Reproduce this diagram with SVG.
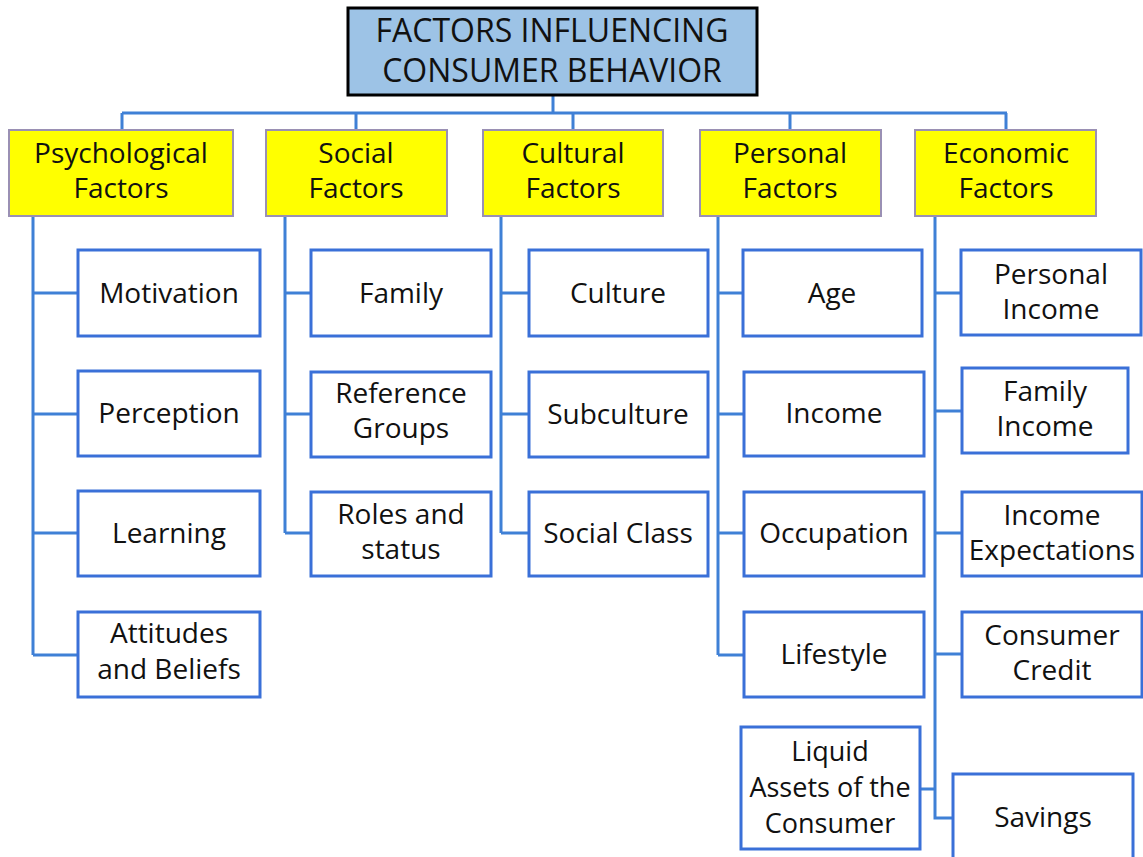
<svg xmlns="http://www.w3.org/2000/svg" width="1143" height="857" viewBox="0 0 1143 857">
<style>
text{font-family:"Open Sans","Liberation Sans",sans-serif;fill:#111;text-anchor:middle;font-size:28px}
.title{font-size:32px}
.sm{font-size:27px}
.hdr{fill:#ffff00;stroke:#9a90b4;stroke-width:2}
.box{fill:#fff;stroke:#3a70d8;stroke-width:3}
.top{fill:#9dc3e6;stroke:#000;stroke-width:3}
#connectors path{fill:none;stroke:#3f80d6;stroke-width:3}
</style>
<rect width="1143" height="857" fill="#fff"/>
<g id="connectors">
<path d="M553 95V113M122 113H1007M122 113V130M356 113V130M573 113V130M790 113V130M1006 113V130"/>
<path d="M33 216V655M33 293H78M33 414H78M33 533H78M33 655H78"/>
<path d="M285 216V533M285 293H311M285 414H311M285 533H311"/>
<path d="M501 216V533M501 293H529M501 414H529M501 533H529"/>
<path d="M718 216V655M718 293H743M718 414H744M718 533H744M718 655H744"/>
<path d="M935 216V818H953M935 293H961M935 411H962M935 533H962M935 654H962M920 789H935"/>
</g>
<g id="title"><rect class="top" x="348" y="8" width="409" height="87"/><text class="title" x="552" y="42">FACTORS INFLUENCING</text><text class="title" x="552" y="82">CONSUMER BEHAVIOR</text></g>
<g id="psych"><rect class="hdr" x="9" y="130" width="224" height="86"/><text x="121" y="163">Psychological</text><text x="121" y="198">Factors</text></g>
<g id="social"><rect class="hdr" x="266" y="130" width="181" height="86"/><text x="356" y="163">Social</text><text x="356" y="198">Factors</text></g>
<g id="cultural"><rect class="hdr" x="483" y="130" width="180" height="86"/><text x="573" y="163">Cultural</text><text x="573" y="198">Factors</text></g>
<g id="personal"><rect class="hdr" x="700" y="130" width="181" height="86"/><text x="790" y="163">Personal</text><text x="790" y="198">Factors</text></g>
<g id="economic"><rect class="hdr" x="915" y="130" width="181" height="86"/><text x="1006" y="163">Economic</text><text x="1006" y="198">Factors</text></g>
<g id="motivation"><rect class="box" x="78" y="250" width="182" height="86"/><text x="169" y="303">Motivation</text></g>
<g id="perception"><rect class="box" x="78" y="371" width="182" height="85"/><text x="169" y="423">Perception</text></g>
<g id="learning"><rect class="box" x="78" y="491" width="182" height="85"/><text x="169" y="543">Learning</text></g>
<g id="attitudes"><rect class="box" x="78" y="612" width="182" height="85"/><text x="169" y="643">Attitudes</text><text x="169" y="679">and Beliefs</text></g>
<g id="family"><rect class="box" x="311" y="250" width="180" height="86"/><text x="401" y="303">Family</text></g>
<g id="reference"><rect class="box" x="311" y="372" width="180" height="85"/><text x="401" y="403">Reference</text><text x="401" y="438">Groups</text></g>
<g id="roles"><rect class="box" x="311" y="492" width="180" height="84"/><text x="401" y="524">Roles and</text><text x="401" y="559">status</text></g>
<g id="culture"><rect class="box" x="529" y="250" width="179" height="86"/><text x="618" y="303">Culture</text></g>
<g id="subculture"><rect class="box" x="529" y="372" width="179" height="85"/><text x="618" y="424">Subculture</text></g>
<g id="socialclass"><rect class="box" x="529" y="492" width="179" height="84"/><text x="618" y="543">Social Class</text></g>
<g id="age"><rect class="box" x="743" y="250" width="179" height="86"/><text x="832" y="303">Age</text></g>
<g id="income"><rect class="box" x="744" y="372" width="180" height="84"/><text x="834" y="423">Income</text></g>
<g id="occupation"><rect class="box" x="744" y="492" width="180" height="84"/><text x="834" y="543">Occupation</text></g>
<g id="lifestyle"><rect class="box" x="744" y="612" width="180" height="85"/><text x="834" y="664">Lifestyle</text></g>
<g id="liquid"><rect class="box" x="741" y="727" width="179" height="122"/><text class="sm" x="830" y="761">Liquid</text><text class="sm" x="830" y="797">Assets of the</text><text class="sm" x="830" y="833">Consumer</text></g>
<g id="personalincome"><rect class="box" x="961" y="250" width="180" height="85"/><text x="1051" y="284">Personal</text><text x="1051" y="319">Income</text></g>
<g id="familyincome"><rect class="box" x="962" y="368" width="166" height="85"/><text x="1045" y="401">Family</text><text x="1045" y="436">Income</text></g>
<g id="expectations"><rect class="box" x="962" y="492" width="180" height="84"/><text x="1052" y="525">Income</text><text x="1052" y="560">Expectations</text></g>
<g id="credit"><rect class="box" x="962" y="612" width="180" height="85"/><text x="1052" y="645">Consumer</text><text x="1052" y="680">Credit</text></g>
<g id="savings"><rect class="box" x="953" y="774" width="180" height="96"/><text x="1043" y="827">Savings</text></g>
</svg>
